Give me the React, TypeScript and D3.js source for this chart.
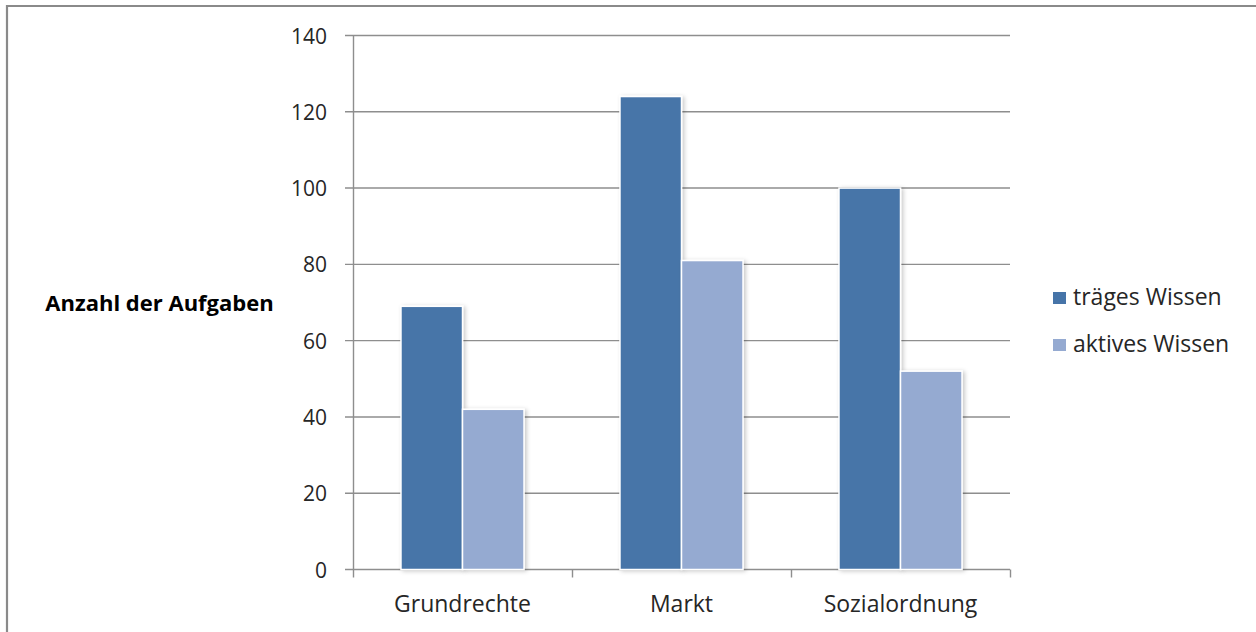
import React from "react";
import * as d3 from "d3";

const categories = ["Grundrechte", "Markt", "Sozialordnung"];
const series = ["träges Wissen", "aktives Wissen"];
const traegesWissen = [69, 124, 100];
const aktivesWissen = [42, 81, 52];
const yTicks = [0, 20, 40, 60, 80, 100, 120, 140];
const colors = ["#4674A8", "#95AAD1"];
const yTitle = "Anzahl der Aufgaben";

const W = 1256;
const H = 632;
const FONT = "'Open Sans', 'DejaVu Sans', sans-serif";

export default function App() {
  const x0 = d3.scaleBand<string>().domain(categories).range([353, 1010]).paddingInner(0).paddingOuter(0);
  const x1 = d3.scaleBand<string>().domain(series).range([0, x0.bandwidth()]).paddingInner(0).paddingOuter(0.78);
  const y = d3.scaleLinear().domain([0, 140]).range([569.5, 35.5]);
  const values = [traegesWissen, aktivesWissen];
  const textColor = "#262626";

  return (
    <svg width={W} height={H} style={{ position: "absolute", left: 0, top: 0, background: "#fff" }}>
      <defs>
        <filter id="shadow" x="-20%" y="-5%" width="150%" height="115%">
          <feDropShadow dx="2" dy="1" stdDeviation="2" floodColor="#000" floodOpacity="0.22" />
        </filter>
      </defs>
      {/* frame */}
      <path d={`M7,${H + 5} V6 H${W + 5}`} fill="none" stroke="#8a8a8a" strokeWidth={2.2} />
      {/* gridlines */}
      {yTicks.map((t) => (
        <line key={"g" + t} x1={345} x2={1010} y1={y(t)} y2={y(t)} stroke="#8e8e8e" strokeWidth={1.4} />
      ))}
      {/* y axis */}
      <line x1={353.5} x2={353.5} y1={y(140)} y2={y(0)} stroke="#8e8e8e" strokeWidth={1.4} />
      {/* x ticks */}
      {[...categories.map((c) => x0(c) as number), 1010].map((xv, i) => (
        <line key={"xt" + i} x1={xv + 0.5} x2={xv + 0.5} y1={y(0)} y2={y(0) + 8} stroke="#8e8e8e" strokeWidth={1.4} />
      ))}
      {/* y tick labels */}
      {yTicks.map((t) => (
        <text key={"yl" + t} x={327} y={y(t) + 8} textAnchor="end" fontFamily={FONT} fontSize={21} fill={textColor}>
          {t}
        </text>
      ))}
      {/* bars */}
      {categories.map((c, ci) =>
        series.map((s, si) => {
          const bx = (x0(c) as number) + (x1(s) as number);
          const v = values[si][ci];
          return (
            <rect
              key={c + s}
              x={bx}
              y={y(v)}
              width={x1.bandwidth()}
              height={y(0) - y(v)}
              fill={colors[si]}
              stroke="#fff"
              strokeWidth={1.5}
              filter="url(#shadow)"
            />
          );
        })
      )}
      {/* x labels */}
      {categories.map((c) => (
        <text
          key={"xl" + c}
          x={(x0(c) as number) + x0.bandwidth() / 2}
          y={612}
          textAnchor="middle"
          fontFamily={FONT}
          fontSize={23}
          fill={textColor}
        >
          {c}
        </text>
      ))}
      {/* y title */}
      <text x={159.5} y={311} textAnchor="middle" fontFamily={FONT} fontSize={22} fontWeight="bold" fill="#000">
        {yTitle}
      </text>
      {/* legend */}
      {series.map((s, i) => (
        <g key={"lg" + s} transform={`translate(1053, ${292 + i * 47})`}>
          <rect x={0} y={0} width={13} height={12} fill={colors[i]} />
          <text x={20} y={13} fontFamily={FONT} fontSize={23} fill={textColor}>
            {s}
          </text>
        </g>
      ))}
    </svg>
  );
}
